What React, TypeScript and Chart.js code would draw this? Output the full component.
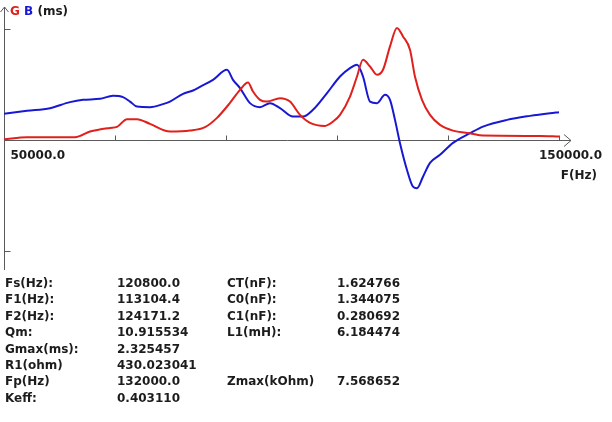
import React, { useEffect, useRef } from 'react';
import { Chart, registerables } from 'chart.js';

Chart.register(...registerables);

// ---- data ----
const G_FREQ = [50000, 54144, 62793, 65495, 69099, 70360, 72162, 73964, 76306, 79910, 83514, 86216, 88378, 90721, 92523, 93964, 94865, 96126, 97387, 99730, 101532, 103333, 105135, 107838, 109279, 110541, 112342, 113604, 114685, 115946, 117207, 118288, 119550, 120800, 121892, 123153, 124054, 125315, 126757, 128559, 130901, 133964, 136306, 146577, 150000];
const G_VALUES = [0.015, 0.056, 0.056, 0.173, 0.249, 0.27, 0.43, 0.43, 0.333, 0.173, 0.193, 0.264, 0.457, 0.769, 1.04, 1.191, 1.004, 0.832, 0.796, 0.867, 0.796, 0.52, 0.353, 0.291, 0.38, 0.52, 0.9, 1.316, 1.663, 1.524, 1.351, 1.455, 1.94, 2.325, 2.148, 1.871, 1.31, 0.832, 0.52, 0.312, 0.193, 0.139, 0.089, 0.083, 0.069];

const B_FREQ = [50000, 54144, 58288, 61892, 64234, 67297, 69640, 71441, 72703, 73964, 76306, 78649, 79910, 82252, 84054, 85315, 87658, 90180, 91261, 92523, 94324, 96126, 97928, 99730, 102072, 103874, 105676, 108198, 110541, 112342, 113604, 114685, 115946, 117207, 118649, 119550, 120450, 121351, 122613, 123694, 124414, 125495, 126757, 128559, 130901, 133964, 136306, 140631, 144775, 148378, 150000];
const B_VALUES = [0.541, 0.603, 0.659, 0.784, 0.832, 0.852, 0.915, 0.888, 0.796, 0.692, 0.68, 0.742, 0.796, 0.956, 1.025, 1.102, 1.247, 1.455, 1.247, 1.075, 0.763, 0.68, 0.763, 0.659, 0.484, 0.484, 0.624, 0.971, 1.316, 1.491, 1.559, 1.316, 0.796, 0.763, 0.936, 0.832, 0.416, -0.069, -0.624, -0.971, -1.004, -0.763, -0.478, -0.31, -0.062, 0.139, 0.277, 0.416, 0.499, 0.555, 0.576];

const X_MIN = 50000;
const X_MAX = 150000;
const Y_MIN = -2.7;
const Y_MAX = 2.8;
const X_TICKS = [70000, 90000, 110000, 130000, 150000];
const Y_TICKS = [2.3, -2.3];
const X_MIN_LABEL = '50000.0';
const X_MAX_LABEL = '150000.0';
const X_TITLE = 'F(Hz)';

const COL1_LABELS = ['Fs(Hz):', 'F1(Hz):', 'F2(Hz):', 'Qm:', 'Gmax(ms):', 'R1(ohm)', 'Fp(Hz)', 'Keff:'];
const COL1_VALUES = ['120800.0', '113104.4', '124171.2', '10.915534', '2.325457', '430.023041', '132000.0', '0.403110'];
const COL2_LABELS = ['CT(nF):', 'C0(nF):', 'C1(nF):', 'L1(mH):', '', '', 'Zmax(kOhm)', ''];
const COL2_VALUES = ['1.624766', '1.344075', '0.280692', '6.184474', '', '', '7.568652', ''];

const RED = '#e0201c';
const BLUE = '#1818d4';
const TEXT = '#1c1c1c';
const FONT = '"DejaVu Sans", Arial, sans-serif';

const axesPlugin = {
  id: 'customAxes',
  beforeDatasetsDraw(chart: any) {
    const { ctx, scales } = chart;
    const xs = scales.x;
    const ys = scales.y;
    const c = (v: number) => Math.round(v) + 0.5;
    const x0 = c(xs.getPixelForValue(X_MIN));
    const y0 = c(ys.getPixelForValue(0));
    const xEnd = xs.getPixelForValue(X_MAX) + 12;
    const yTop = ys.getPixelForValue(Y_MAX) + 2;
    const yBot = ys.getPixelForValue(Y_MIN);
    ctx.save();
    ctx.strokeStyle = '#5a5a5a';
    ctx.lineWidth = 1;
    ctx.beginPath();
    // x axis
    ctx.moveTo(x0, y0);
    ctx.lineTo(xEnd, y0);
    ctx.moveTo(xEnd - 7, y0 - 6);
    ctx.lineTo(xEnd, y0);
    ctx.lineTo(xEnd - 7, y0 + 6);
    // y axis
    ctx.moveTo(x0, yBot);
    ctx.lineTo(x0, yTop);
    ctx.moveTo(x0 - 4, yTop + 5);
    ctx.lineTo(x0, yTop);
    ctx.lineTo(x0 + 4, yTop + 5);
    // ticks
    X_TICKS.forEach((t) => {
      const px = c(xs.getPixelForValue(t));
      ctx.moveTo(px, y0);
      ctx.lineTo(px, y0 - 5);
    });
    Y_TICKS.forEach((t) => {
      const py = c(ys.getPixelForValue(t));
      ctx.moveTo(x0, py);
      ctx.lineTo(x0 + 6, py);
    });
    ctx.stroke();
    // labels
    ctx.fillStyle = TEXT;
    ctx.font = 'bold 12px ' + FONT;
    ctx.textBaseline = 'top';
    ctx.textAlign = 'left';
    ctx.fillText(X_MIN_LABEL, x0 + 6, y0 + 9);
    ctx.textAlign = 'right';
    const xr = xs.getPixelForValue(X_MAX);
    ctx.fillText(X_MAX_LABEL, xr + 43, y0 + 9);
    ctx.fillText(X_TITLE, xr + 38, y0 + 29);
    ctx.restore();
  },
};

export default function App() {
  const ref = useRef<HTMLCanvasElement | null>(null);

  useEffect(() => {
    if (!ref.current) return;
    const chart = new Chart(ref.current, {
      type: 'line',
      data: {
        datasets: [
          {
            label: 'G',
            data: G_FREQ.map((f, i) => ({ x: f, y: G_VALUES[i] })),
            borderColor: RED,
            borderWidth: 2,
            pointRadius: 0,
            cubicInterpolationMode: 'monotone',
            fill: false,
          },
          {
            label: 'B',
            data: B_FREQ.map((f, i) => ({ x: f, y: B_VALUES[i] })),
            borderColor: BLUE,
            borderWidth: 2,
            pointRadius: 0,
            cubicInterpolationMode: 'monotone',
            fill: false,
          },
        ],
      },
      options: {
        responsive: false,
        animation: false,
        devicePixelRatio: 1,
        layout: { padding: { left: 4, right: 53, top: 5, bottom: 152 } },
        scales: {
          x: { type: 'linear', min: X_MIN, max: X_MAX, display: false },
          y: { type: 'linear', min: Y_MIN, max: Y_MAX, display: false },
        },
        plugins: { legend: { display: false }, tooltip: { enabled: false } },
      },
      plugins: [axesPlugin],
    } as any);
    return () => chart.destroy();
  }, []);

  const textStyle: React.CSSProperties = {
    position: 'absolute',
    font: 'bold 12px ' + FONT,
    color: TEXT,
    whiteSpace: 'pre',
    lineHeight: '14px',
  };
  const ROW_TOP = 276;
  const ROW_STEP = 16.4;
  const cols: [string[], number][] = [
    [COL1_LABELS, 5],
    [COL1_VALUES, 117],
    [COL2_LABELS, 227],
    [COL2_VALUES, 337],
  ];

  return (
    <div style={{ position: 'absolute', left: 0, top: 0, width: 612, height: 422, background: '#fff', overflow: 'hidden' }}>
      <canvas ref={ref} width={612} height={422} style={{ position: 'absolute', left: 0, top: 0 }} />
      <div style={{ ...textStyle, left: 10, top: 4 }}>
        <span style={{ color: RED }}>G</span> <span style={{ color: BLUE }}>B</span> <span>(ms)</span>
      </div>
      {cols.map(([arr, left], ci) =>
        arr.map((t, ri) =>
          t ? (
            <div key={ci + '-' + ri} style={{ ...textStyle, left, top: ROW_TOP + ri * ROW_STEP }}>
              {t}
            </div>
          ) : null
        )
      )}
    </div>
  );
}
